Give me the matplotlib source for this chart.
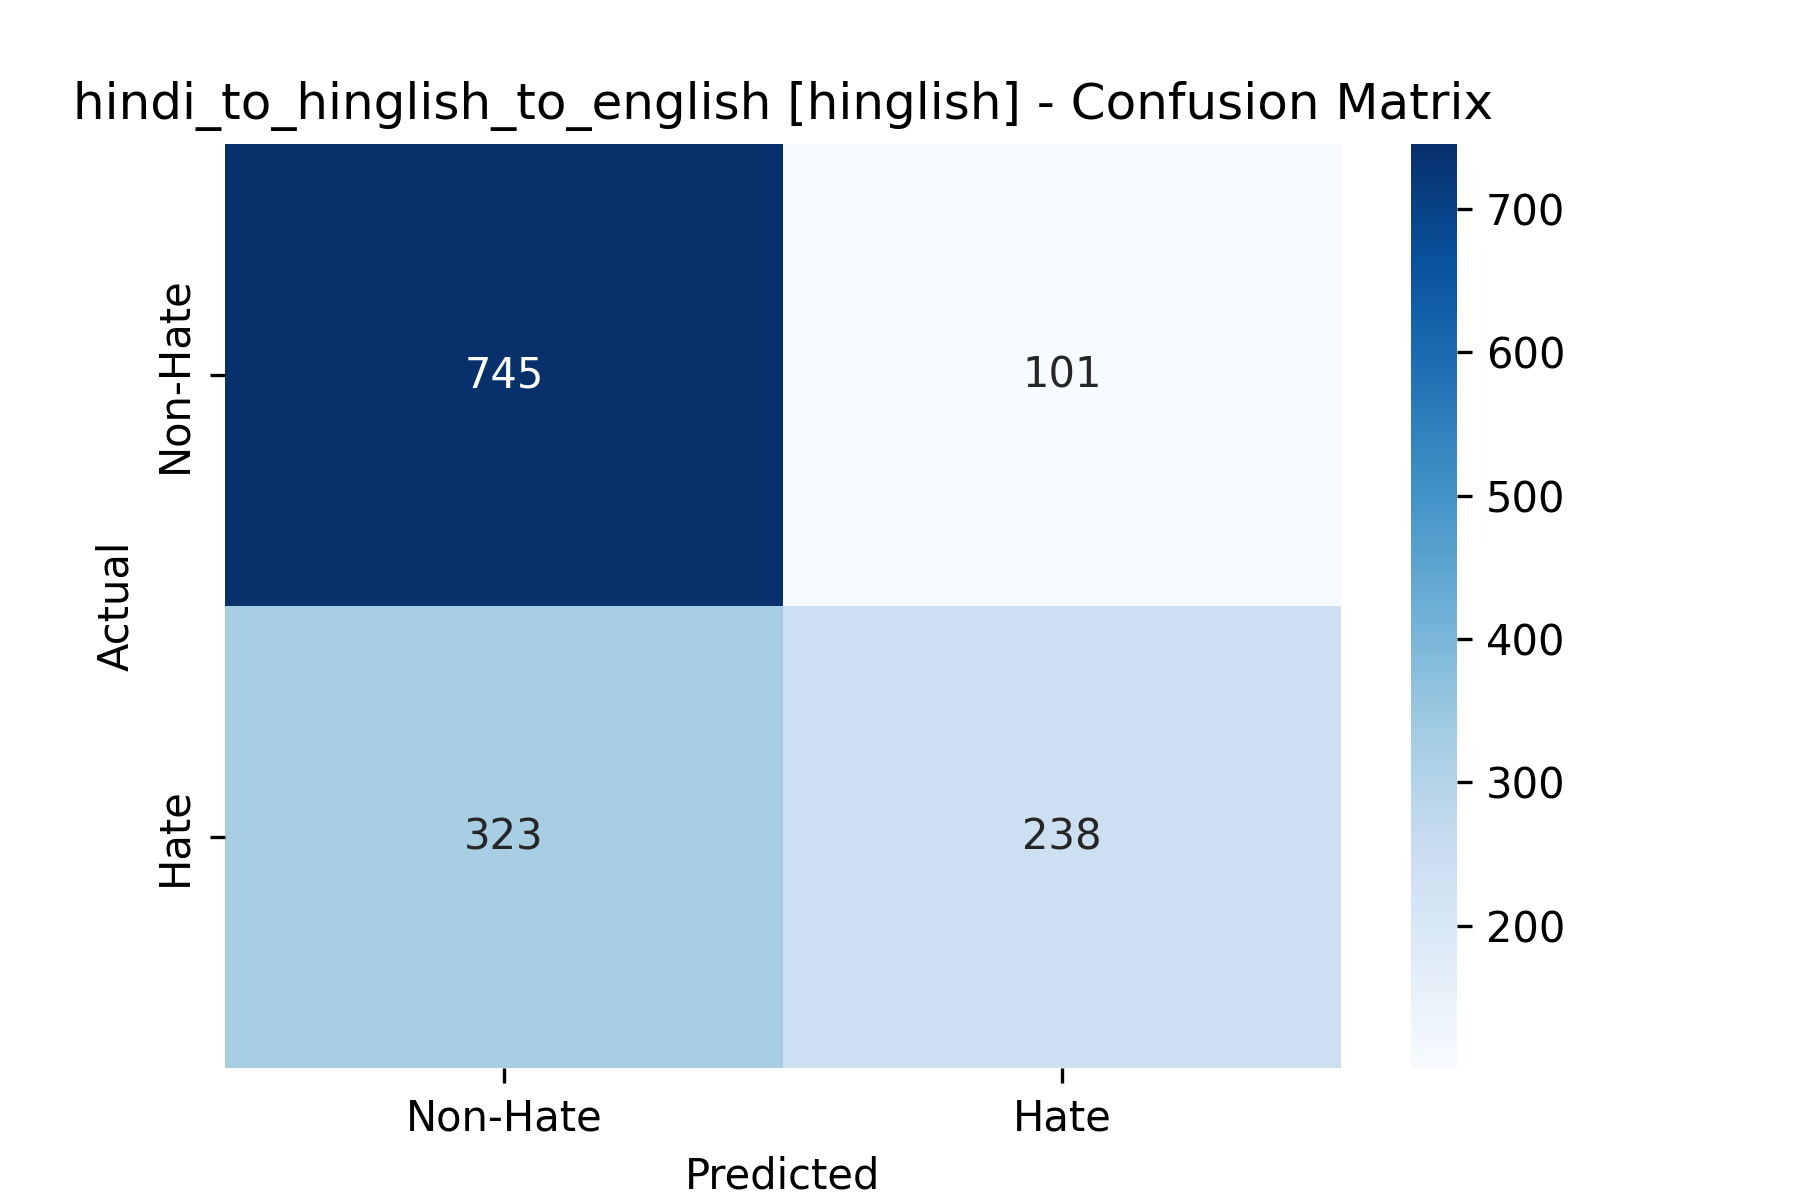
import matplotlib
matplotlib.use("Agg")
import matplotlib.pyplot as plt
import seaborn as sns
import numpy as np

labels = ["Non-Hate", "Hate"]
row_nonhate = [745, 101]
row_hate = [323, 238]

cm = np.array([row_nonhate, row_hate])

fig, ax = plt.subplots(figsize=(6, 4), dpi=300)
sns.heatmap(cm, annot=True, fmt="d", cmap="Blues",
            xticklabels=labels, yticklabels=labels, ax=ax)
ax.set_xlabel("Predicted")
ax.set_ylabel("Actual")
ax.set_title("hindi_to_hinglish_to_english [hinglish] - Confusion Matrix")
fig.savefig("out.png", dpi=300)
